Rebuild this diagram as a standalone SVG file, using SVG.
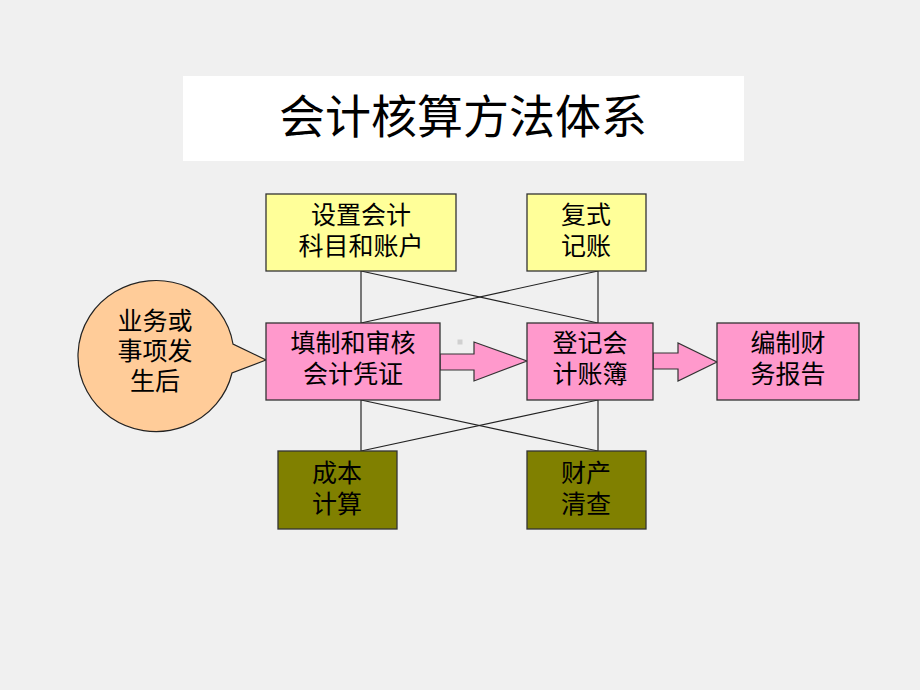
<svg xmlns="http://www.w3.org/2000/svg" width="920" height="690" viewBox="0 0 920 690">
<style>
.t{font-family:"Noto Sans CJK SC","Noto Sans",sans-serif;font-size:25px;fill:#000;text-anchor:middle}
.box{stroke:#333;stroke-width:1.3}
.y{fill:#ffff99}.p{fill:#ff99cc}.o{fill:#808000}
.v{stroke:#777;stroke-width:2;fill:none}
.d{stroke:#222;stroke-width:1.2;fill:none}
.arr{fill:#ff99cc;stroke:#333;stroke-width:1.2}
</style>
<rect width="920" height="690" fill="#f0f0f0"/>
<g id="title">
<rect x="183" y="76" width="561" height="85" fill="#fff"/>
<text class="t" x="463" y="133" style="font-size:46px">会计核算方法体系</text>
</g>
<g id="connectors">
<line class="v" x1="361" y1="271" x2="361" y2="323"/>
<line class="v" x1="598" y1="271" x2="598" y2="323"/>
<line class="d" x1="361" y1="271" x2="598" y2="323"/>
<line class="d" x1="598" y1="271" x2="361" y2="323"/>
<line class="v" x1="361" y1="400" x2="361" y2="451"/>
<line class="v" x1="598" y1="400" x2="598" y2="451"/>
<line class="d" x1="361" y1="400" x2="598" y2="451"/>
<line class="d" x1="598" y1="400" x2="361" y2="451"/>
<polygon class="arr" points="440,354 474,354 474,342 527,361 474,381 474,370 440,370"/>
<polygon class="arr" points="653,353 678,353 678,343 717,362 678,381 678,369 653,369"/>
<rect x="457.5" y="339.5" width="5" height="5" fill="#d0d0d0"/>
</g>
<g id="callout">
<path d="M233,344 A78,75.5 0 1 0 232,373 L266,360 Z" fill="#ffcc99" stroke="#222" stroke-width="1.2"/>
<text class="t" x="155" y="330">业务或</text>
<text class="t" x="155" y="360">事项发</text>
<text class="t" x="155" y="390">生后</text>
</g>
<g id="n-setup">
<rect class="box y" x="266" y="194" width="190" height="77"/>
<text class="t" x="361" y="224">设置会计</text>
<text class="t" x="361" y="255">科目和账户</text>
</g>
<g id="n-double">
<rect class="box y" x="527" y="194" width="119" height="77"/>
<text class="t" x="586" y="224">复式</text>
<text class="t" x="586" y="255">记账</text>
</g>
<g id="n-voucher">
<rect class="box p" x="266" y="323" width="174" height="77"/>
<text class="t" x="353" y="352">填制和审核</text>
<text class="t" x="353" y="383">会计凭证</text>
</g>
<g id="n-ledger">
<rect class="box p" x="527" y="323" width="126" height="77"/>
<text class="t" x="590" y="352">登记会</text>
<text class="t" x="590" y="383">计账簿</text>
</g>
<g id="n-report">
<rect class="box p" x="717" y="323" width="142" height="77"/>
<text class="t" x="788" y="352">编制财</text>
<text class="t" x="788" y="383">务报告</text>
</g>
<g id="n-cost">
<rect class="box o" x="278" y="451" width="119" height="78"/>
<text class="t" x="337" y="482">成本</text>
<text class="t" x="337" y="513">计算</text>
</g>
<g id="n-property">
<rect class="box o" x="527" y="451" width="119" height="78"/>
<text class="t" x="586" y="482">财产</text>
<text class="t" x="586" y="513">清查</text>
</g>
</svg>
